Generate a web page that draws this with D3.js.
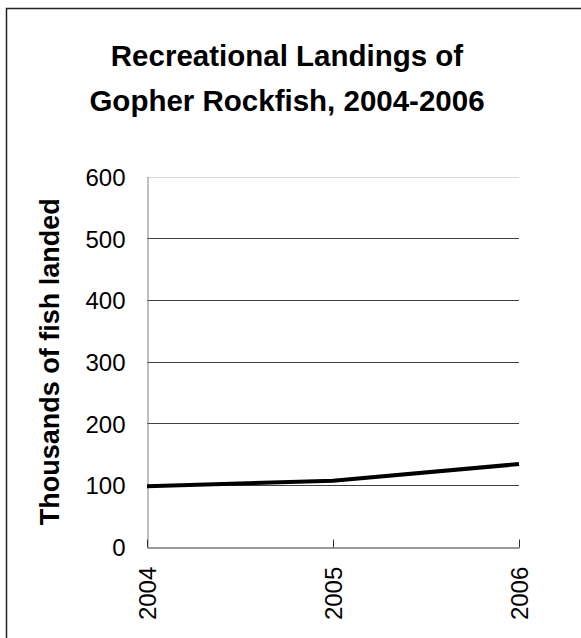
<!DOCTYPE html>
<html>
<head>
<meta charset="utf-8">
<script src="https://cdn.jsdelivr.net/npm/d3@7"></script>
<style>
  html, body { margin: 0; padding: 0; background: #fff; }
  svg { display: block; font-family: Arial, "Liberation Sans", sans-serif; }
</style>
</head>
<body>
<svg id="chart" width="581" height="638"></svg>
<script>
// Recreational landings (thousands of fish) by year
const years = ["2004", "2005", "2006"];
const landings = [98, 107, 134];
const yTicks = [0, 100, 200, 300, 400, 500, 600];
const titleLines = ["Recreational Landings of", "Gopher Rockfish, 2004-2006"];
const yTitle = "Thousands of fish landed";

const svg = d3.select("#chart");
const W = 581, H = 638;
const plot = { left: 147, right: 519, top: 176.7, bottom: 546.7 };
const FONT = "Arial, 'Liberation Sans', sans-serif";

// frame (top and left edges visible)
svg.append("path")
  .attr("d", `M6.5,${H} V8.5 H${W}`)
  .attr("fill", "none").attr("stroke", "#222").attr("stroke-width", 1.5);

const x = d3.scalePoint().domain(years).range([plot.left, plot.right]);
const y = d3.scaleLinear().domain([0, 600]).range([plot.bottom, plot.top]);

// title
svg.append("g").selectAll("text").data(titleLines).join("text")
  .attr("x", 287).attr("y", (d, i) => 66 + i * 45)
  .attr("text-anchor", "middle")
  .attr("font-size", 29.5).attr("font-weight", "bold").attr("fill", "#000")
  .text(d => d);

// horizontal gridlines
svg.append("g").selectAll("line").data(yTicks.filter(v => v > 0)).join("line")
  .attr("x1", plot.left).attr("x2", plot.right)
  .attr("y1", d => Math.round(y(d)) + 0.5).attr("y2", d => Math.round(y(d)) + 0.5)
  .attr("stroke", d => d === 600 ? "#d8d8d8" : "#404040").attr("stroke-width", 1);

// y axis
const yAxis = svg.append("g")
  .attr("transform", `translate(${plot.left + 0.5},0)`)
  .call(d3.axisLeft(y).tickValues(yTicks).tickSize(0).tickPadding(22));
yAxis.attr("font-family", FONT);
yAxis.select(".domain").attr("stroke", "#808080");
yAxis.selectAll("text").attr("font-size", 24).attr("fill", "#000").attr("dy", "0.36em");

// x axis
const xAxis = svg.append("g")
  .attr("transform", `translate(0,${Math.round(plot.bottom) + 0.5})`)
  .call(d3.axisTop(x).tickSize(8).tickSizeOuter(0));
xAxis.select(".domain").attr("stroke", "#333");
xAxis.selectAll(".tick line").attr("stroke", "#333");
xAxis.selectAll("text").remove();
svg.append("g").selectAll("text").data(years).join("text")
  .attr("transform", d => `translate(${x(d) + 8.5},${plot.bottom + 20}) rotate(-90)`)
  .attr("text-anchor", "end")
  .attr("font-size", 24).attr("fill", "#000")
  .text(d => d);

// y axis title
svg.append("text")
  .attr("transform", `translate(59,${(plot.top + plot.bottom) / 2}) rotate(-90)`)
  .attr("text-anchor", "middle")
  .attr("font-size", 27).attr("font-weight", "bold").attr("fill", "#000")
  .text(yTitle);

// landings line
const line = d3.line().x((d, i) => x(years[i])).y(d => y(d));
svg.append("path")
  .datum(landings)
  .attr("d", line)
  .attr("fill", "none").attr("stroke", "#000").attr("stroke-width", 4)
  .attr("stroke-linejoin", "round");
</script>
</body>
</html>
